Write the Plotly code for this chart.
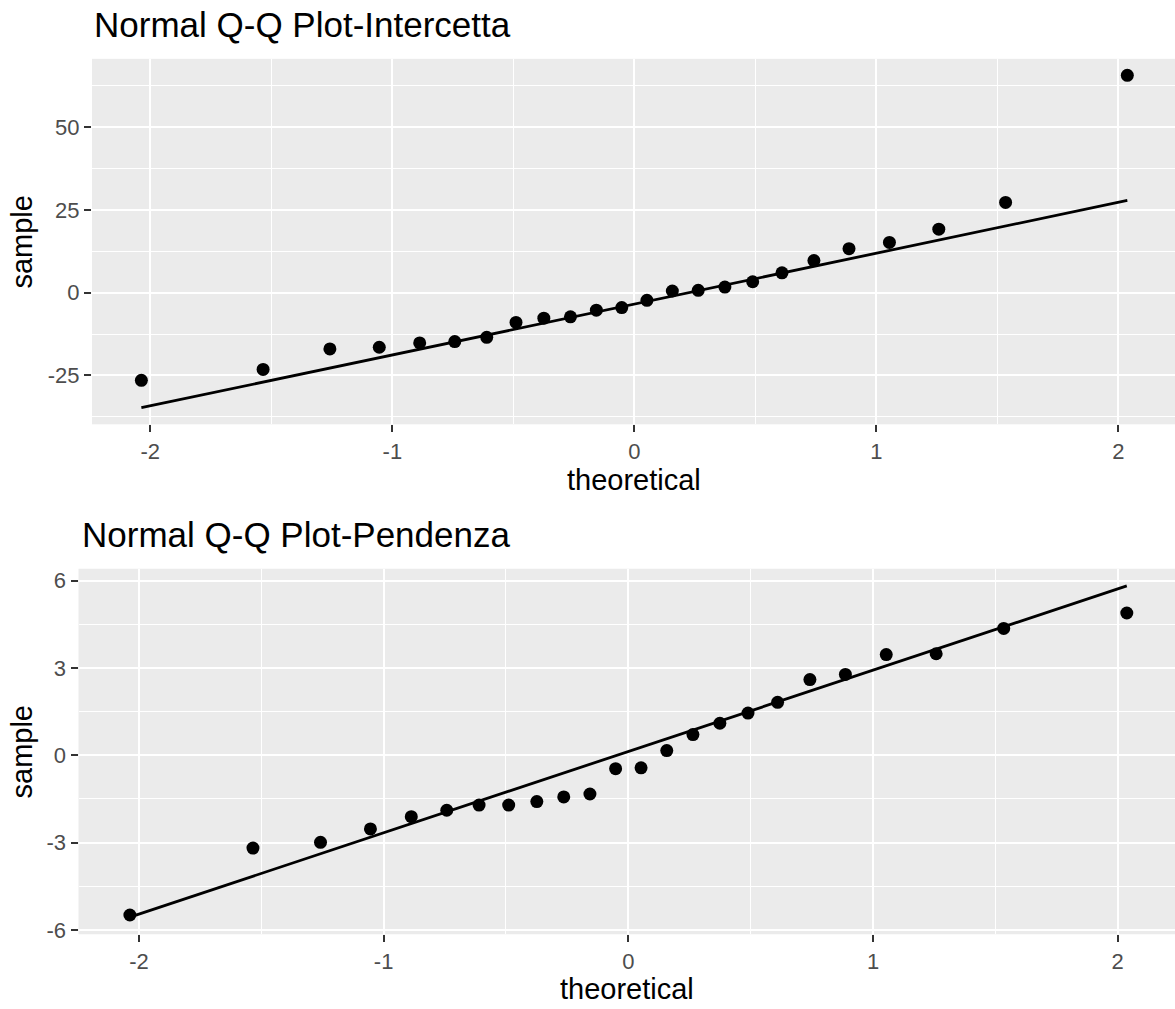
import numpy as np
import plotly.graph_objects as go

# ---- data ----
theoretical = [-2.037, -1.534, -1.258, -1.054, -0.887, -0.742, -0.610, -0.489,
               -0.374, -0.264, -0.157, -0.052, 0.052, 0.157, 0.264, 0.374,
               0.489, 0.610, 0.742, 0.887, 1.054, 1.258, 1.534, 2.037]
sample_intercetta = [-26.5, -23.2, -17.0, -16.5, -15.2, -14.8, -13.5, -9.0,
                     -7.7, -7.3, -5.3, -4.5, -2.3, 0.5, 0.7, 1.7,
                     3.3, 6.0, 9.7, 13.3, 15.2, 19.2, 27.3, 65.7]
sample_pendenza = [-5.49, -3.19, -2.99, -2.53, -2.11, -1.89, -1.71, -1.71,
                   -1.59, -1.43, -1.33, -0.46, -0.43, 0.16, 0.71, 1.10,
                   1.45, 1.82, 2.60, 2.78, 3.46, 3.49, 4.36, 4.89]
titles = ["Normal Q-Q Plot-Intercetta", "Normal Q-Q Plot-Pendenza"]
x_ticks = [-2, -1, 0, 1, 2]
x_tick_text = ["-2", "-1", "0", "1", "2"]
y_ticks_top = [-25, 0, 25, 50]
y_tick_text_top = ["-25", "0", "25", "50"]
y_ticks_bottom = [-6, -3, 0, 3, 6]
y_tick_text_bottom = ["-6", "-3", "0", "3", "6"]

W, H = 1175, 1009
FONT = "Liberation Sans, Arial, Helvetica, sans-serif"
TICK_SIZE = 22
AXT_SIZE = 29
TITLE_SIZE = 35


def qq_line(x, y):
    q1, q3 = np.percentile(y, [25, 75])
    z = 0.6744897501960817
    slope = (q3 - q1) / (2 * z)
    intercept = (q1 + q3) / 2
    xs = [min(x), max(x)]
    return xs, [intercept + slope * v for v in xs]


def px_x(p):
    return p / W


def px_y(p):
    return 1 - p / H


fig = go.Figure()

panels = [
    dict(sample=sample_intercetta, xa="x", ya="y",
         xdom=[px_x(92), 1], ydom=[px_y(427.7), px_y(59.3)],
         xr=[-2.241, 2.234], yr=[-39.8, 70.7],
         yt=y_ticks_top, ytt=y_tick_text_top,
         ymin=[-37.5, -12.5, 12.5, 37.5, 62.5],
         title_xy=(92, 25), xt_y=483.5, yt_x=22),
    dict(sample=sample_pendenza, xa="x2", ya="y2",
         xdom=[px_x(78.5), 1], ydom=[px_y(941.7), px_y(573.3)],
         xr=[-2.247, 2.234], yr=[-6.15, 6.41],
         yt=y_ticks_bottom, ytt=y_tick_text_bottom,
         ymin=[-4.5, -1.5, 1.5, 4.5],
         title_xy=(80, 539), xt_y=996.5, yt_x=22),
]

for i, p in enumerate(panels):
    lx, ly = qq_line(theoretical, p["sample"])
    fig.add_trace(go.Scatter(x=lx, y=ly, mode="lines",
                             line=dict(color="black", width=2.8),
                             xaxis=p["xa"], yaxis=p["ya"], showlegend=False,
                             hoverinfo="skip"))
    fig.add_trace(go.Scatter(x=theoretical, y=p["sample"], mode="markers",
                             marker=dict(color="black", size=13),
                             xaxis=p["xa"], yaxis=p["ya"], showlegend=False))

    suffix = "" if i == 0 else "2"
    common = dict(showline=False, zeroline=False, ticks="outside", ticklen=7,
                  tickwidth=1.8, tickcolor="#333333",
                  tickfont=dict(family=FONT, size=TICK_SIZE, color="#4D4D4D"),
                  showgrid=True, gridcolor="white", gridwidth=2.2)
    fig.layout["xaxis" + suffix] = dict(
        domain=p["xdom"], range=p["xr"], tickvals=x_ticks,
        ticktext=x_tick_text, anchor="y" + suffix,
        minor=dict(tickvals=[-1.5, -0.5, 0.5, 1.5], showgrid=True,
                   gridcolor="white", gridwidth=1.1, ticks=""),
        **common)
    fig.layout["yaxis" + suffix] = dict(
        domain=p["ydom"], range=p["yr"], tickvals=p["yt"],
        ticktext=p["ytt"], anchor="x" + suffix,
        minor=dict(tickvals=p["ymin"], showgrid=True,
                   gridcolor="white", gridwidth=1.1, ticks=""),
        **common)

    tx, ty = p["title_xy"]
    fig.add_annotation(text=titles[i], x=px_x(tx), y=px_y(ty), xref="paper",
                       yref="paper", xanchor="left", yanchor="middle",
                       showarrow=False,
                       font=dict(family=FONT, size=TITLE_SIZE, color="black"))
    cx = (p["xdom"][0] + p["xdom"][1]) / 2
    fig.add_annotation(text="theoretical", x=cx, y=px_y(p["xt_y"]),
                       xref="paper", yref="paper", xanchor="center",
                       yanchor="middle", showarrow=False,
                       font=dict(family=FONT, size=AXT_SIZE, color="black"))
    cy = (p["ydom"][0] + p["ydom"][1]) / 2
    fig.add_annotation(text="sample", x=px_x(p["yt_x"]), y=cy,
                       xref="paper", yref="paper", xanchor="center",
                       yanchor="middle", textangle=-90, showarrow=False,
                       font=dict(family=FONT, size=AXT_SIZE, color="black"))

fig.update_layout(width=W, height=H, margin=dict(l=0, r=0, t=0, b=0),
                  paper_bgcolor="white", plot_bgcolor="#EBEBEB",
                  showlegend=False)

fig.write_html("out.html", config={"displayModeBar": False},
               post_script="document.body.style.margin='0px';")
